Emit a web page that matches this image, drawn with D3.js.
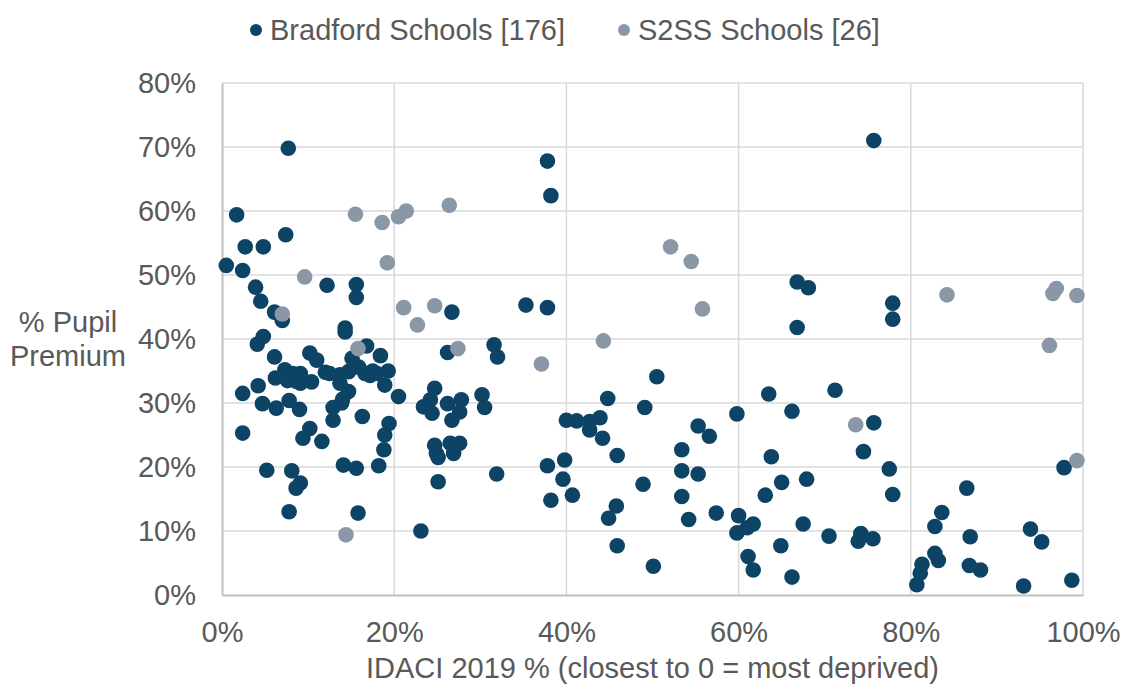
<!DOCTYPE html>
<html>
<head>
<meta charset="utf-8">
<script src="https://cdn.jsdelivr.net/npm/d3@7"></script>
<style>
  html, body { margin: 0; padding: 0; background: #ffffff; }
  svg { display: block; font-family: "Liberation Sans", Arial, sans-serif; }
</style>
</head>
<body>
<svg id="chart" width="1122" height="686"></svg>
<script>
// ---- Data (IDACI %, Pupil Premium %) ----
const seriesNames = ["Bradford Schools [176]", "S2SS Schools [26]"];
const bradfordIdaci = [
  1.7,7.4,2.7,4.8,0.5,2.4,12.2,3.9,4.5,6.1,7.0,7.7,
  4.8,4.1,6.1,10.2,11.0,12.0,7.3,6.2,7.6,9.1,9.1,10.4,13.7,13.7,2.4,4.2,4.7,6.3,7.8,9.0,12.9,12.9,13.9,2.4,10.2,9.4,11.6,8.2,8.6,
  5.2,8.1,9.1,8.6,7.8,14.1,
  15.6,15.6,26.7,14.3,14.3,
  16.8,18.4,26.2,31.6,32.0,15.1,14.7,15.4,16.6,18.0,19.3,18.9,14.7,20.5,24.7,24.2,23.4,24.4,26.2,27.8,27.6,26.7,30.2,30.5,16.3,19.4,18.9,18.8,24.7,24.9,26.5,27.6,26.9,
  25.1,15.6,18.2,31.9,25.1,15.8,23.1,15.9,17.2,17.5,12.5,14.0,
  37.8,38.2,35.3,37.8,66.8,66.8,50.5,44.8,49.1,40.0,41.2,42.7,43.9,42.7,44.2,45.9,37.8,39.8,39.6,38.2,40.7,48.9,45.8,44.9,45.9,50.1,
  55.3,56.6,53.4,53.4,55.3,53.4,54.2,57.4,59.8,63.5,66.2,63.8,65.0,63.1,60.0,61.7,61.0,59.8,61.1,61.7,64.9,66.2,67.5,
  75.7,68.1,77.9,77.9,71.2,75.7,74.5,77.5,77.9,67.9,70.5,74.2,73.9,75.6,
  97.8,86.5,83.6,82.8,86.9,93.9,95.2,82.8,83.2,81.3,81.1,80.7,86.8,88.1,93.1,98.7
];
const bradfordPP = [
  59.4,56.3,54.4,54.4,51.5,50.7,48.4,48.1,45.9,44.2,42.9,69.8,
  40.4,39.2,37.2,37.8,36.7,34.8,35.2,33.9,33.5,34.6,33.1,33.3,34.4,33.1,31.5,32.7,29.9,29.2,30.4,29.0,29.3,27.3,30.0,25.3,26.0,24.5,24.0,34.6,33.4,
  19.5,19.4,17.5,16.7,13.0,20.3,
  48.5,46.5,44.2,41.7,41.1,
  38.9,37.4,37.9,39.1,37.2,37.0,34.9,35.9,34.6,34.6,35.0,32.8,31.8,31.0,32.3,30.5,29.4,28.4,29.9,30.5,28.6,27.3,31.3,29.3,27.9,26.8,25.0,22.7,23.4,22.1,23.7,23.7,22.1,
  21.5,19.8,20.2,18.9,17.7,12.8,10.0,35.6,34.3,35.0,34.6,30.6,
  67.8,62.4,45.3,44.9,48.9,41.8,34.1,30.7,29.3,27.3,27.2,27.1,27.7,25.8,24.5,21.8,20.2,21.1,18.1,14.8,15.6,17.3,13.9,12.0,7.7,4.5,
  26.4,24.8,22.7,19.4,18.9,15.4,11.8,12.8,28.3,31.4,28.7,21.6,17.6,15.6,12.4,11.1,10.5,9.7,6.0,3.9,7.7,2.8,11.1,
  71.0,48.0,45.6,43.1,32.0,26.9,22.4,19.7,15.7,18.1,9.2,9.6,8.4,8.8,
  19.9,16.7,12.9,10.7,9.1,10.3,8.3,6.5,5.4,4.8,3.4,1.6,4.6,3.9,1.4,2.3
];
const s2ssIdaci = [9.6,7.0,15.5,18.6,20.5,21.4,26.4,19.2,21.1,24.7,22.7,15.8,27.4,14.4,52.1,54.5,55.8,44.3,37.1,84.2,96.9,96.5,99.3,96.1,73.6,99.3];
const s2ssPP    = [49.7,43.9,59.5,58.2,59.1,60.0,60.9,51.9,44.9,45.2,42.2,38.5,38.5,9.4,54.4,52.1,44.7,39.7,36.1,46.9,47.9,47.1,46.8,39.0,26.6,21.0];
const xTicks = [0, 20, 40, 60, 80, 100];
const yTicks = [0, 10, 20, 30, 40, 50, 60, 70, 80];
const xTitle = "IDACI 2019 % (closest to 0 = most deprived)";
const yTitleLines = ["% Pupil", "Premium"];

// ---- Layout ----
const colors = ["#0d4465", "#8a97a6"];
const textColor = "#595959";
const fontSize = "29px";
const svg = d3.select("#chart");
const plot = { left: 222, right: 1083, top: 83, bottom: 595 };

const x = d3.scaleLinear().domain([0, 100]).range([plot.left, plot.right]);
const y = d3.scaleLinear().domain([0, 80]).range([plot.bottom, plot.top]);

// gridlines
const grid = svg.append("g");
grid.selectAll("line.h").data(yTicks.filter(d => d > 0)).join("line")
  .attr("x1", plot.left).attr("x2", plot.right)
  .attr("y1", d => y(d)).attr("y2", d => y(d))
  .attr("stroke", "#d9d9d9").attr("stroke-width", 1.5);
grid.selectAll("line.v").data(xTicks.filter(d => d > 0)).join("line")
  .attr("y1", plot.top).attr("y2", plot.bottom)
  .attr("x1", d => x(d)).attr("x2", d => x(d))
  .attr("stroke", "#d9d9d9").attr("stroke-width", 1.5);

// axes via d3
const xAxis = d3.axisBottom(x).tickValues(xTicks).tickFormat(d => d + "%").tickSize(0).tickPadding(26);
const yAxis = d3.axisLeft(y).tickValues(yTicks).tickFormat(d => d + "%").tickSize(0).tickPadding(26);

const gx = svg.append("g").attr("transform", `translate(0,${plot.bottom})`).call(xAxis);
gx.select(".domain").attr("stroke", "#bfbfbf").attr("stroke-width", 2);
gx.selectAll("text").attr("fill", textColor).style("font-size", fontSize)
  .style("font-family", "'Liberation Sans', Arial, sans-serif");

const gy = svg.append("g").attr("transform", `translate(${plot.left},0)`).call(yAxis);
gy.select(".domain").attr("stroke", "#bfbfbf").attr("stroke-width", 2);
gy.selectAll("text").attr("fill", textColor).style("font-size", fontSize)
  .style("font-family", "'Liberation Sans', Arial, sans-serif");

// points
const bradford = bradfordIdaci.map((v, i) => ({ x: v, y: bradfordPP[i] }));
const s2ss = s2ssIdaci.map((v, i) => ({ x: v, y: s2ssPP[i] }));
const r = 7.8;
svg.append("g").selectAll("circle").data(bradford).join("circle")
  .attr("cx", d => x(d.x)).attr("cy", d => y(d.y)).attr("r", r).attr("fill", colors[0]);
svg.append("g").selectAll("circle").data(s2ss).join("circle")
  .attr("cx", d => x(d.x)).attr("cy", d => y(d.y)).attr("r", r).attr("fill", colors[1]);

// axis titles
svg.append("text").attr("x", (plot.left + plot.right) / 2).attr("y", 678).attr("text-anchor", "middle")
  .attr("fill", textColor).style("font-size", fontSize).text(xTitle);
svg.append("g").selectAll("text").data(yTitleLines).join("text")
  .attr("x", 68).attr("y", (d, i) => 332 + i * 34).attr("text-anchor", "middle")
  .attr("fill", textColor).style("font-size", fontSize).text(d => d);

// legend
const legendPos = [256, 624];
const lg = svg.append("g");
lg.selectAll("circle").data(seriesNames).join("circle")
  .attr("cx", (d, i) => legendPos[i]).attr("cy", 30).attr("r", 6).attr("fill", (d, i) => colors[i]);
lg.selectAll("text").data(seriesNames).join("text")
  .attr("x", (d, i) => legendPos[i] + 14).attr("y", 40)
  .attr("fill", textColor).style("font-size", fontSize).text(d => d);
</script>
</body>
</html>
